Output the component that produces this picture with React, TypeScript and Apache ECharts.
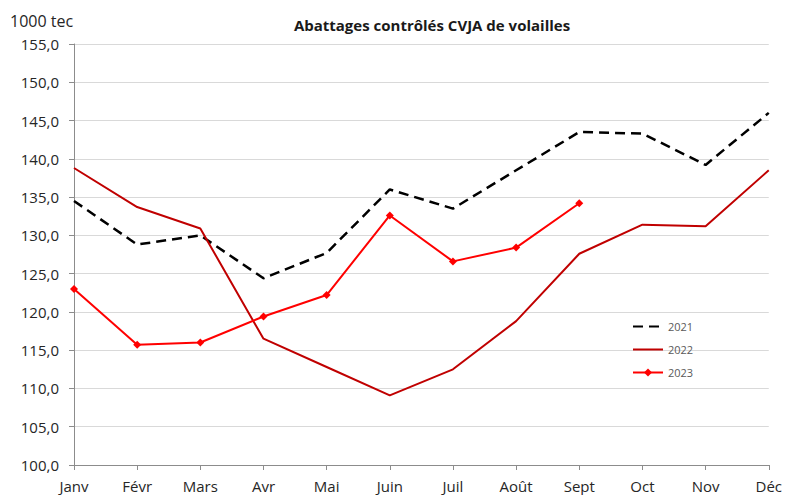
import React, { useEffect, useRef } from "react";
import * as echarts from "echarts";

const months = ["Janv", "Févr", "Mars", "Avr", "Mai", "Juin", "Juil", "Août", "Sept", "Oct", "Nov", "Déc"];
const s2021 = [134.5, 128.8, 130.0, 124.4, 127.7, 136.0, 133.5, 138.5, 143.5, 143.3, 139.2, 146.0];
const s2022 = [138.8, 133.7, 130.9, 116.5, 112.8, 109.1, 112.5, 118.8, 127.6, 131.4, 131.2, 138.5];
const s2023 = [123.0, 115.7, 116.0, 119.4, 122.2, 132.6, 126.6, 128.4, 134.2];
const yMin = 100;
const yMax = 155;
const yStep = 5;

const FONT = "Open Sans";

export default function App() {
  const ref = useRef<HTMLDivElement>(null);
  useEffect(() => {
    if (!ref.current) return;
    const chart = echarts.init(ref.current, null, { renderer: "svg" });
    chart.setOption({
      animation: false,
      textStyle: { fontFamily: FONT },
      title: {
        text: "Abattages contrôlés CVJA de volailles",
        left: 427,
        textAlign: "center",
        top: 12,
        textStyle: { fontSize: 15, fontWeight: "bold", color: "#1a1a1a", fontFamily: FONT },
      },
      graphic: [
        {
          type: "text",
          left: 10,
          top: 13,
          style: { text: "1000 tec", fontSize: 16, fill: "#262626", fontFamily: FONT },
        },
      ],
      grid: { left: 74, right: 15, top: 44, bottom: 30, containLabel: false },
      legend: {
        orient: "vertical",
        left: 627,
        top: 316,
        itemWidth: 30,
        itemHeight: 10,
        itemGap: 12,
        textStyle: { fontSize: 11, color: "#595959", fontFamily: FONT },
        data: [
          { name: "2021", itemStyle: { opacity: 0 } },
          { name: "2022", itemStyle: { opacity: 0 } },
          { name: "2023" },
        ],
      },
      xAxis: {
        type: "category",
        data: months,
        boundaryGap: false,
        axisLine: { lineStyle: { color: "#8c8c8c", width: 1 } },
        axisTick: { show: true, length: 5, alignWithLabel: true, lineStyle: { color: "#8c8c8c" } },
        axisLabel: { fontSize: 15, color: "#262626", margin: 13, fontFamily: FONT },
        splitLine: { show: false },
      },
      yAxis: {
        type: "value",
        min: yMin,
        max: yMax,
        interval: yStep,
        axisLine: { show: true, lineStyle: { color: "#8c8c8c", width: 1 } },
        axisTick: { show: true, length: 5, lineStyle: { color: "#8c8c8c" } },
        axisLabel: {
          fontSize: 15,
          color: "#262626",
          margin: 15,
          fontFamily: FONT,
          formatter: (v: number) => v.toFixed(1).replace(".", ","),
        },
        splitLine: { show: true, lineStyle: { color: "#d9d9d9", width: 1 } },
      },
      series: [
        {
          name: "2021",
          type: "line",
          data: s2021,
          symbol: "none",
          lineStyle: { color: "#000000", width: 2.5, type: [10, 6] },
          itemStyle: { color: "#000000" },
        },
        {
          name: "2022",
          type: "line",
          data: s2022,
          symbol: "none",
          lineStyle: { color: "#C00000", width: 2 },
          itemStyle: { color: "#C00000" },
        },
        {
          name: "2023",
          type: "line",
          data: s2023,
          symbol: "diamond",
          symbolSize: 8,
          showAllSymbol: true,
          lineStyle: { color: "#FF0000", width: 2 },
          itemStyle: { color: "#FF0000" },
        },
      ],
    });
    return () => chart.dispose();
  }, []);
  return <div ref={ref} style={{ width: 785, height: 495, position: "absolute", left: 0, top: 0 }} />;
}
